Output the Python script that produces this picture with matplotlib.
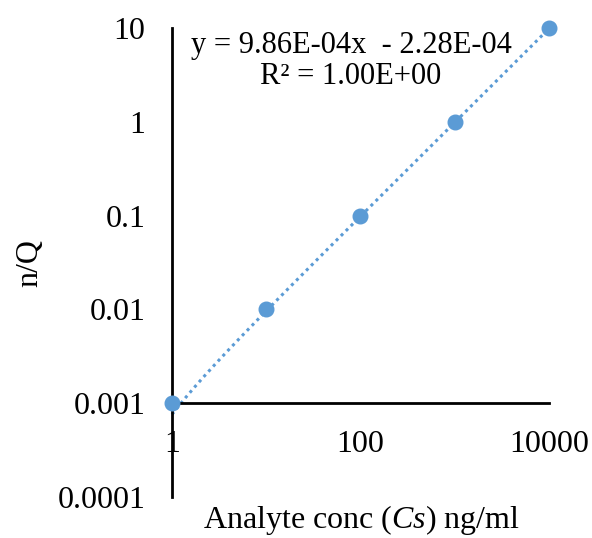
import numpy as np
import matplotlib
matplotlib.use("Agg")
import matplotlib.pyplot as plt

plt.rcParams['font.family'] = ['Liberation Serif', 'DejaVu Serif']
plt.rcParams['mathtext.fontset'] = 'custom'
plt.rcParams['mathtext.rm'] = 'Liberation Serif'
plt.rcParams['mathtext.it'] = 'Liberation Serif:italic'

# data
conc = [1, 10, 100, 1000, 10000]
nq = [0.001, 0.01, 0.1, 1, 10]
slope = 9.86e-04
intercept = -2.28e-04
x_ticks = [1, 100, 10000]
x_ticklabels = ['1', '100', '10000']
y_ticks = [0.0001, 0.001, 0.01, 0.1, 1, 10]
y_ticklabels = ['0.0001', '0.001', '0.01', '0.1', '1', '10']

blue = '#5B9BD5'
fs = 23

fig = plt.figure(figsize=(5.92, 5.38), dpi=100)
ax = fig.add_axes([0.2905, 0.0762, 0.9274 - 0.2905, 0.948 - 0.0762])
ax.set_xscale('log')
ax.set_yscale('log')
ax.set_xlim(1, 10000)
ax.set_ylim(1e-4, 10)

# linear trendline (Excel style), drawn on the log axes
xs = np.logspace(0, 4, 300)
ax.plot(xs, slope * xs + intercept, linestyle=(0, (1, 1.3)), color=blue, lw=2.2,
        clip_on=False, zorder=2)
ax.plot(conc, nq, 'o', color=blue, markersize=10.5, clip_on=False, zorder=3)

for s in ['top', 'right']:
    ax.spines[s].set_visible(False)
ax.spines['bottom'].set_position(('data', 1e-3))
ax.spines['left'].set_linewidth(2)
ax.spines['bottom'].set_linewidth(2)

ax.set_xticks(x_ticks)
ax.set_xticklabels(x_ticklabels)
ax.set_yticks(y_ticks)
ax.set_yticklabels(y_ticklabels)
ax.minorticks_off()
ax.tick_params(axis='x', length=0, pad=19, labelsize=fs)
ax.tick_params(axis='y', length=0, pad=19, labelsize=fs)

fig.text(0.593, 0.916, 'y = 9.86E-04x  - 2.28E-04', ha='center', va='center', fontsize=22)
fig.text(0.593, 0.857, 'R² = 1.00E+00', ha='center', va='center', fontsize=22)

fig.text(0.61, 0.034, r'Analyte conc ($\mathit{Cs}$) ng/ml', ha='center', va='center', fontsize=fs)
fig.text(0.051, 0.511, 'n/Q', ha='center', va='center', rotation=90, fontsize=fs)

fig.savefig('out.png', dpi=100)
